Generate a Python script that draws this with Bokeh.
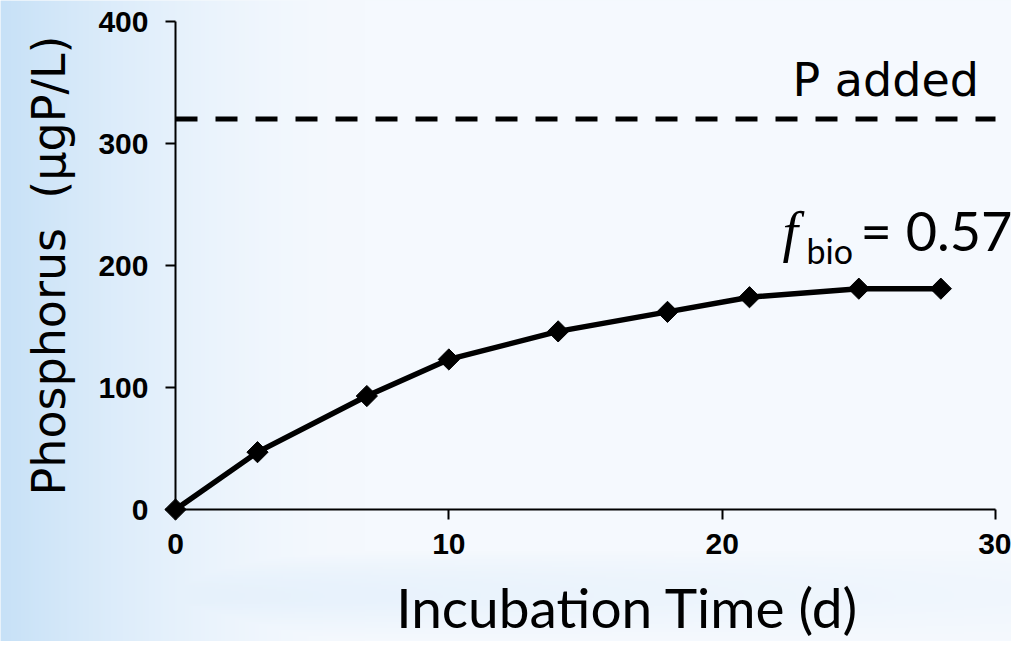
import numpy as np
from bokeh.plotting import figure
from bokeh.models import Range1d, Label, ColumnDataSource
from bokeh.embed import file_html
from bokeh.resources import INLINE

# ---- data ----
time_d = [0, 3, 7, 10, 14, 18, 21, 25, 28]
phosphorus = [0, 47, 93, 123, 146, 162, 174, 181, 181]
p_added = 320
x_ticks = [0, 10, 20, 30]
y_ticks = [0, 100, 200, 300, 400]
x_title = "Incubation Time (d)"
y_title = "Phosphorus\u00a0\u00a0(\u03bcgP/L)"

BG = "#eaf3fc"
W, H = 1011, 641

# pixel layout of the plotting area (origin and far corners of the axes)
X0_PX, X30_PX = 175, 995
Y0_PX, Y400_PX = 509, 21
kx = (X30_PX - X0_PX) / (x_ticks[-1] - x_ticks[0])
ky = (Y0_PX - Y400_PX) / (y_ticks[-1] - y_ticks[0])

def dx(px):
    return (px - X0_PX) / kx

def dy(py):
    return (Y0_PX - py) / ky

xr = Range1d(dx(0), dx(W))
yr = Range1d(dy(H), dy(0))

p = figure(width=W, height=H, x_range=xr, y_range=yr,
           output_backend="svg", toolbar_location=None,
           min_border_left=0, min_border_right=0,
           min_border_top=0, min_border_bottom=0)

p.background_fill_color = BG
p.border_fill_color = BG
p.outline_line_color = None
p.xgrid.visible = False
p.ygrid.visible = False

# soft slide-style background gradient (decoration only)
gw, gh = W // 2, H // 2
u = np.linspace(0, 1, gw)[None, :]
v = np.linspace(1, 0, gh)[:, None]          # row 0 = bottom
centre = np.array([245, 249, 254], float)
edge = np.array([199, 225, 247], float)
w_left = np.clip(1 - u / 0.36, 0, 1) ** 1.7
w_bot = np.clip((v - 0.86) / 0.08, 0, 1) * np.clip(1 - v, 0, 1) / 0.14
w_bot = np.clip(w_bot, 0, 1) * (1 - 0.75 * u)
w = np.maximum(w_left, 0.85 * w_bot)
img = centre[None, None, :] + (edge - centre)[None, None, :] * w[..., None]
rgba = np.empty((gh, gw), dtype=np.uint32)
view = rgba.view(dtype=np.uint8).reshape((gh, gw, 4))
view[..., :3] = img.astype(np.uint8)
view[..., 3] = 255
p.image_rgba(image=[rgba], x=xr.start, y=yr.start,
             dw=xr.end - xr.start, dh=yr.end - yr.start)

for ax, ticks in ((p.xaxis, x_ticks), (p.yaxis, y_ticks)):
    ax.ticker = ticks
    ax.bounds = (ticks[0], ticks[-1])
    ax.fixed_location = 0
    ax.axis_line_width = 2
    ax.axis_line_color = "black"
    ax.major_tick_line_width = 2
    ax.major_tick_line_color = "black"
    ax.major_tick_in = 0
    ax.major_tick_out = 10
    ax.minor_tick_line_color = None
    ax.major_label_text_font = "Liberation Sans"
    ax.major_label_text_font_style = "bold"
    ax.major_label_text_font_size = "30px"
    ax.major_label_text_color = "black"

p.xaxis.major_label_standoff = 14
p.yaxis.major_label_standoff = 17

# reference line: P added
p.segment(x0=[x_ticks[0]], x1=[x_ticks[-1]], y0=[p_added], y1=[p_added],
          line_color="black", line_width=5, line_dash="22 18")

src = ColumnDataSource(dict(t=time_d, P=phosphorus))
p.line("t", "P", source=src, line_color="black", line_width=5.5)
p.scatter("t", "P", source=src, marker="square", size=15, angle=np.pi / 4,
          fill_color="black", line_color="black")

def lab(px, py, text, size, font="Lato", **kw):
    # py is the bottom of the text box
    p.add_layout(Label(x=dx(px), y=dy(py), text=text, text_font=font,
                       text_font_size=size, text_color="black", **kw))

lab(792, 106, "P added", "46px", font="DejaVu Sans")
lab(782, 262, "f", "56px", font="Liberation Serif", text_font_style="italic")
lab(806, 270, "bio", "34px")
lab(860, 262, "= 0.57", "54px")

lab(627, 639, x_title, "55px", text_align="center")
lab(75, 265, y_title, "46px", font="DejaVu Sans", text_align="center", angle=np.pi / 2)

open("out.html", "w").write(file_html(p, INLINE))
